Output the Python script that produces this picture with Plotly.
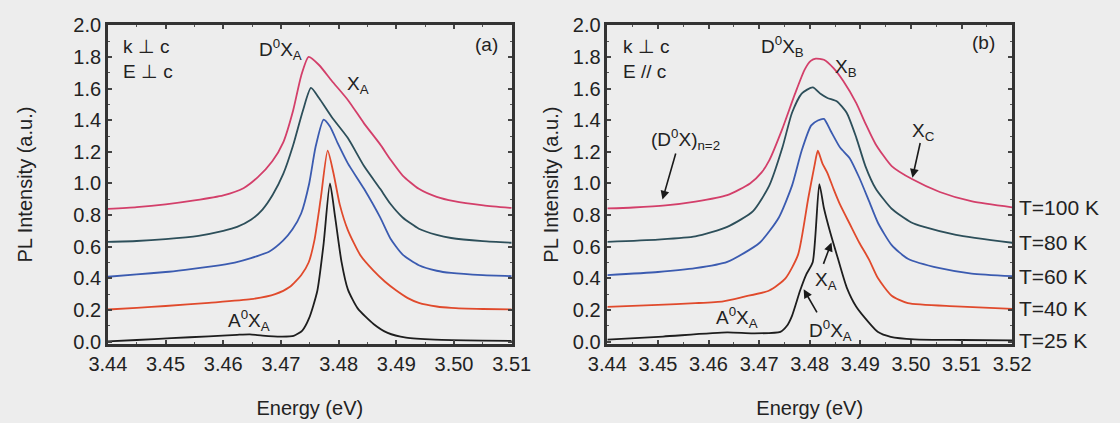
import plotly.graph_objects as go

# ---------------- data ----------------
temps = ["T=25 K", "T=40 K", "T=60 K", "T=80 K", "T=100 K"]
colors = ["#1e1e1e", "#e04a2c", "#3b5bb0", "#2d4f5a", "#d33f6a"]

# Panel (a): k ⊥ c, E ⊥ c
a_e_25 = [3.440, 3.445, 3.451, 3.4575, 3.4624, 3.4646, 3.4668, 3.4700, 3.4722, 3.4737, 3.4749, 3.4763,
          3.4774, 3.4785, 3.4794, 3.4805, 3.4816, 3.4833, 3.4861, 3.4885, 3.4917, 3.4967, 3.505, 3.510]
a_i_25 = [0.002, 0.010, 0.022, 0.033, 0.043, 0.046, 0.038, 0.032, 0.036, 0.070, 0.150, 0.320,
          0.620, 1.000, 0.785, 0.504, 0.330, 0.210, 0.110, 0.055, 0.025, 0.012, 0.006, 0.005]

a_e_40 = [3.440, 3.445, 3.450, 3.4575, 3.4648, 3.4690, 3.4715, 3.4735, 3.4748, 3.4758, 3.4769, 3.4781,
          3.4791, 3.4802, 3.4816, 3.4838, 3.4860, 3.4880, 3.4900, 3.4920, 3.4939, 3.4970, 3.4995,
          3.505, 3.510]
a_i_40 = [0.203, 0.213, 0.225, 0.245, 0.268, 0.300, 0.345, 0.420, 0.500, 0.640, 0.905, 1.207,
          1.066, 0.866, 0.705, 0.544, 0.450, 0.380, 0.323, 0.275, 0.245, 0.222, 0.213,
          0.206, 0.203]

a_e_60 = [3.440, 3.445, 3.450, 3.4534, 3.4580, 3.4620, 3.4648, 3.4680, 3.4704, 3.4720, 3.4735, 3.4749,
          3.4760, 3.4774, 3.4785, 3.4799, 3.4816, 3.4844, 3.4872, 3.4890, 3.4911, 3.4939, 3.4970,
          3.4995, 3.505, 3.510]
a_i_60 = [0.410, 0.425, 0.440, 0.454, 0.475, 0.500, 0.528, 0.570, 0.640, 0.710, 0.810, 1.000,
          1.230, 1.404, 1.360, 1.250, 1.127, 0.966, 0.785, 0.650, 0.550, 0.483, 0.448,
          0.434, 0.420, 0.414]

a_e_80 = [3.440, 3.445, 3.450, 3.4557, 3.4600, 3.4624, 3.4648, 3.4668, 3.4686, 3.4704, 3.4721, 3.4738,
          3.4752, 3.4766, 3.4788, 3.4816, 3.4844, 3.4872, 3.4890, 3.4911, 3.4939, 3.4970, 3.4995,
          3.505, 3.510]
a_i_80 = [0.631, 0.636, 0.648, 0.669, 0.700, 0.725, 0.770, 0.835, 0.930, 1.060, 1.240, 1.460,
          1.604, 1.540, 1.420, 1.287, 1.110, 0.966, 0.870, 0.785, 0.714, 0.675, 0.655,
          0.635, 0.625]

a_e_100 = [3.440, 3.445, 3.450, 3.455, 3.4600, 3.4635, 3.4660, 3.4685, 3.4704, 3.4721, 3.4735, 3.4748,
           3.4766, 3.4788, 3.4816, 3.4844, 3.4872, 3.4890, 3.4911, 3.4939, 3.4970, 3.5000, 3.5051,
           3.510]
a_i_100 = [0.839, 0.850, 0.868, 0.893, 0.925, 0.970, 1.040, 1.140, 1.260, 1.460, 1.680, 1.800,
           1.749, 1.649, 1.528, 1.380, 1.247, 1.150, 1.050, 0.966, 0.915, 0.888, 0.862,
           0.845]

# Panel (b): k ⊥ c, E // c
b_e_25 = [3.440, 3.451, 3.4637, 3.4688, 3.4742, 3.4755, 3.4765, 3.4781, 3.4793, 3.4806, 3.4819, 3.4828,
          3.4841, 3.4854, 3.4873, 3.4892, 3.4917, 3.4935, 3.4960, 3.5007, 3.510, 3.520]
b_i_25 = [0.012, 0.032, 0.058, 0.052, 0.062, 0.100, 0.163, 0.323, 0.424, 0.504, 0.996, 0.845,
          0.685, 0.544, 0.343, 0.220, 0.120, 0.060, 0.030, 0.014, 0.010, 0.008]

b_e_40 = [3.440, 3.450, 3.4574, 3.4629, 3.4669, 3.4720, 3.4752, 3.4777, 3.4797, 3.4809, 3.4816, 3.4825,
          3.4835, 3.4847, 3.4860, 3.4879, 3.4898, 3.4917, 3.4935, 3.4962, 3.4994, 3.5089, 3.520]
b_i_40 = [0.219, 0.232, 0.243, 0.255, 0.283, 0.323, 0.400, 0.550, 0.905, 1.106, 1.207, 1.127,
          1.066, 0.966, 0.866, 0.745, 0.625, 0.520, 0.400, 0.290, 0.243, 0.223, 0.207]

b_e_60 = [3.440, 3.450, 3.4574, 3.4637, 3.4701, 3.4739, 3.4765, 3.4784, 3.4803, 3.4816, 3.4828, 3.4841,
          3.4860, 3.4879, 3.4898, 3.4917, 3.4935, 3.4962, 3.4994, 3.5057, 3.512, 3.520]
b_i_60 = [0.420, 0.440, 0.464, 0.504, 0.625, 0.785, 0.986, 1.207, 1.367, 1.398, 1.408, 1.335,
          1.227, 1.160, 1.036, 0.890, 0.750, 0.610, 0.524, 0.464, 0.430, 0.414]

b_e_80 = [3.440, 3.450, 3.4574, 3.4637, 3.4688, 3.4720, 3.4746, 3.4765, 3.4784, 3.4806, 3.4822, 3.4835,
          3.4854, 3.4873, 3.4892, 3.4910, 3.4930, 3.4962, 3.5000, 3.5026, 3.5089, 3.520]
b_i_80 = [0.631, 0.645, 0.665, 0.725, 0.825, 0.986, 1.227, 1.447, 1.568, 1.608, 1.565, 1.540,
          1.518, 1.447, 1.290, 1.110, 0.970, 0.840, 0.755, 0.725, 0.675, 0.625]

b_e_100 = [3.440, 3.4451, 3.4515, 3.4574, 3.4637, 3.4682, 3.4705, 3.4720, 3.4746, 3.4771, 3.4790, 3.4802,
           3.4812, 3.4828, 3.4847, 3.4866, 3.4892, 3.4910, 3.4930, 3.4962, 3.5003, 3.5057, 3.5121, 3.520]
b_i_100 = [0.842, 0.848, 0.861, 0.885, 0.926, 1.000, 1.070, 1.146, 1.347, 1.568, 1.720, 1.775,
           1.789, 1.782, 1.729, 1.649, 1.508, 1.380, 1.250, 1.110, 1.026, 0.946, 0.886, 0.849]

panel_a = [(a_e_25, a_i_25), (a_e_40, a_i_40), (a_e_60, a_i_60), (a_e_80, a_i_80), (a_e_100, a_i_100)]
panel_b = [(b_e_25, b_i_25), (b_e_40, b_i_40), (b_e_60, b_i_60), (b_e_80, b_i_80), (b_e_100, b_i_100)]

x_ticks_a = [3.44, 3.45, 3.46, 3.47, 3.48, 3.49, 3.50, 3.51]
x_ticks_b = [3.44, 3.45, 3.46, 3.47, 3.48, 3.49, 3.50, 3.51, 3.52]
y_ticks = [0.0, 0.2, 0.4, 0.6, 0.8, 1.0, 1.2, 1.4, 1.6, 1.8, 2.0]

# ---------------- figure ----------------
W, H = 1120, 423
BG = "#ededed"
FONT = "Arial, Liberation Sans, sans-serif"
TXT = "#222222"

fig = go.Figure()
for (e, i), c, t in zip(panel_a, colors, temps):
    fig.add_trace(go.Scatter(x=e, y=i, mode="lines", name=t, showlegend=False,
                             line=dict(color=c, width=1.8, shape="spline", smoothing=0.6),
                             xaxis="x", yaxis="y"))
for (e, i), c, t in zip(panel_b, colors, temps):
    fig.add_trace(go.Scatter(x=e, y=i, mode="lines", name=t, showlegend=False,
                             line=dict(color=c, width=1.8, shape="spline", smoothing=0.6),
                             xaxis="x2", yaxis="y2"))

y_dom = [(H - 349.5) / H, (H - 15) / H]
common_x = dict(showline=True, linewidth=2.5, linecolor="#333333", mirror="allticks",
                ticks="inside", ticklen=4, tickwidth=1.5, tickcolor="#444444",
                minor=dict(ticks="inside", ticklen=2, tickwidth=1.2, tickcolor="#555555", dtick=0.005),
                showgrid=False, zeroline=False, tickformat=".2f",
                tickfont=dict(family=FONT, size=20, color=TXT),
                title=dict(text="Energy (eV)", font=dict(family=FONT, size=20, color=TXT), standoff=28))
common_y = dict(showline=True, linewidth=2.5, linecolor="#333333", mirror="allticks",
                ticks="inside", ticklen=4, tickwidth=1.5, tickcolor="#444444",
                minor=dict(ticks="inside", ticklen=2, tickwidth=1.2, tickcolor="#555555", dtick=0.1),
                showgrid=False, zeroline=False, range=[-0.015, 2.0],
                tickvals=y_ticks, ticktext=[f"{v:.1f}" for v in y_ticks],
                tickfont=dict(family=FONT, size=20, color=TXT),
                domain=y_dom)

fig.update_layout(
    width=W, height=H, margin=dict(l=0, r=0, t=0, b=0),
    paper_bgcolor=BG, plot_bgcolor=BG, showlegend=False,
    xaxis=dict(common_x, domain=[92 / W, 510 / W], range=[3.44, 3.51], anchor="y",
               tickvals=x_ticks_a),
    yaxis=dict(common_y, anchor="x",
               title=dict(text="PL Intensity (a.u.)", font=dict(family=FONT, size=20, color=TXT),
                          standoff=36)),
    xaxis2=dict(common_x, domain=[609 / W, 1028 / W], range=[3.44, 3.52], anchor="y2",
                tickvals=x_ticks_b),
    yaxis2=dict(common_y, anchor="x2",
                title=dict(text="PL Intensity (a.u.)", font=dict(family=FONT, size=20, color=TXT),
                           standoff=9)),
)

af = dict(family=FONT, size=19, color=TXT)


def lab(text, x, y, xr, yr, xanchor="center"):
    fig.add_annotation(text=text, x=x, y=y, xref=xr, yref=yr, showarrow=False,
                       font=af, xanchor=xanchor, yanchor="middle")


def arrow(x, y, ax, ay, xr, yr):
    fig.add_annotation(text="", x=x, y=y, ax=ax, ay=ay, xref=xr, yref=yr, axref=xr, ayref=yr,
                       showarrow=True, arrowhead=2, arrowsize=1.1, arrowwidth=1.6, arrowcolor="#1a1a1a")


# panel (a) labels
lab("k ⊥ c", 3.4423, 1.867, "x", "y", "left")
lab("E ⊥ c", 3.4423, 1.705, "x", "y", "left")
lab("D<sup>0</sup>X<sub>A</sub>", 3.4699, 1.85, "x", "y")
lab("X<sub>A</sub>", 3.4833, 1.62, "x", "y")
lab("A<sup>0</sup>X<sub>A</sub>", 3.4645, 0.135, "x", "y")
lab("(a)", 3.5080, 1.88, "x", "y", "right")

# panel (b) labels
lab("k ⊥ c", 3.4427, 1.867, "x2", "y2", "left")
lab("E // c", 3.4427, 1.711, "x2", "y2", "left")
lab("D<sup>0</sup>X<sub>B</sub>", 3.4746, 1.867, "x2", "y2")
lab("X<sub>B</sub>", 3.4872, 1.729, "x2", "y2")
lab("(b)", 3.5171, 1.89, "x2", "y2", "right")
lab("A<sup>0</sup>X<sub>A</sub>", 3.4656, 0.151, "x2", "y2")
lab("X<sub>A</sub>", 3.4833, 0.386, "x2", "y2")
lab("D<sup>0</sup>X<sub>A</sub>", 3.4841, 0.072, "x2", "y2")
lab("(D<sup>0</sup>X)<sub>n=2</sub>", 3.4555, 1.277, "x2", "y2")
lab("X<sub>C</sub>", 3.5024, 1.325, "x2", "y2")

arrow(3.4509, 0.898, 3.4536, 1.199, "x2", "y2")
arrow(3.5003, 1.036, 3.5019, 1.265, "x2", "y2")
arrow(3.4843, 0.627, 3.4826, 0.482, "x2", "y2")
arrow(3.4788, 0.331, 3.4816, 0.175, "x2", "y2")

# temperature labels at the right end of each curve in panel (b)
for (e, i), t in zip(panel_b, temps):
    fig.add_annotation(text=t, x=1033 / W, y=i[-1], xref="paper", yref="y2", showarrow=False,
                       font=dict(family=FONT, size=21, color=TXT), xanchor="left", yanchor="middle")

fig.write_html("out.html")
